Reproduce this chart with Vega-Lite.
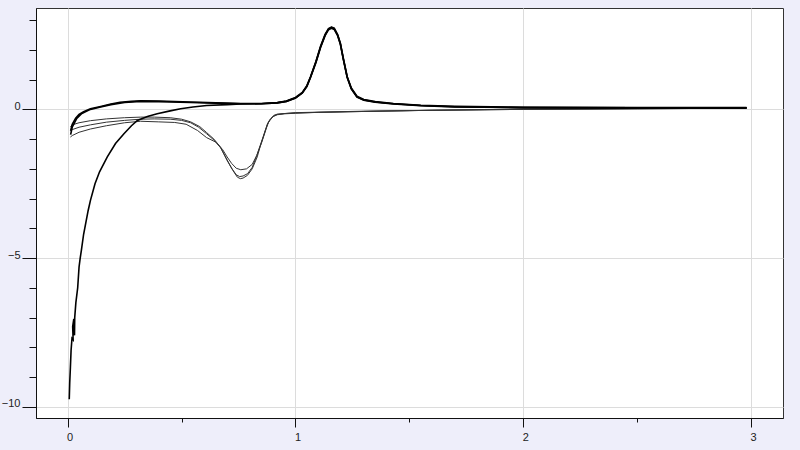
{
  "$schema": "https://vega.github.io/schema/vega-lite/v6.json",
  "width": 747,
  "height": 410,
  "autosize": {"type": "none"},
  "padding": {"left": 36, "top": 8, "right": 17, "bottom": 32},
  "background": "#eeeefa",
  "config": {
    "view": {"fill": "white", "stroke": "#333", "strokeWidth": 1},
    "axis": {
      "labelFont": "Liberation Sans",
      "labelFontSize": 11,
      "labelColor": "#222",
      "domainColor": "#111",
      "tickColor": "#111",
      "gridColor": "#dcdcdc",
      "title": null
    }
  },
  "data": {
    "values": [
      {"s":"a1","x":0.007,"y":-9.75},{"s":"a1","x":0.009,"y":-9.2},{"s":"a1","x":0.012,"y":-8.67},{"s":"a1","x":0.015,"y":-8.1},{"s":"a1","x":0.019,"y":-7.7},{"s":"a1","x":0.024,"y":-7.75},{"s":"a1","x":0.022,"y":-7.3},{"s":"a1","x":0.027,"y":-7.05},{"s":"a1","x":0.03,"y":-7.6},{"s":"a1","x":0.031,"y":-7.0},{"s":"a1","x":0.036,"y":-6.5},{"s":"a1","x":0.044,"y":-6.0},{"s":"a1","x":0.05,"y":-5.3},{"s":"a1","x":0.055,"y":-5.0},{"s":"a1","x":0.06,"y":-4.75},{"s":"a1","x":0.07,"y":-4.2},{"s":"a1","x":0.08,"y":-3.8},{"s":"a1","x":0.09,"y":-3.4},{"s":"a1","x":0.1,"y":-3.06},{"s":"a1","x":0.12,"y":-2.5},{"s":"a1","x":0.14,"y":-2.1},{"s":"a1","x":0.174,"y":-1.6},{"s":"a1","x":0.21,"y":-1.15},{"s":"a1","x":0.247,"y":-0.82},{"s":"a1","x":0.28,"y":-0.55},{"s":"a1","x":0.306,"y":-0.37},{"s":"a1","x":0.35,"y":-0.24},{"s":"a1","x":0.393,"y":-0.15},{"s":"a1","x":0.45,"y":-0.05},{"s":"a1","x":0.496,"y":0.02},{"s":"a1","x":0.55,"y":0.08},{"s":"a1","x":0.61,"y":0.13},{"s":"a1","x":0.7,"y":0.16},{"s":"a1","x":0.76,"y":0.18},{"s":"a1","x":0.85,"y":0.19},{"s":"a1","x":0.92,"y":0.22},{"s":"a1","x":0.96,"y":0.27},{"s":"a1","x":1.0,"y":0.38},{"s":"a1","x":1.03,"y":0.55},{"s":"a1","x":1.05,"y":0.78},{"s":"a1","x":1.066,"y":1.09},{"s":"a1","x":1.09,"y":1.6},{"s":"a1","x":1.11,"y":2.1},{"s":"a1","x":1.13,"y":2.5},{"s":"a1","x":1.145,"y":2.7},{"s":"a1","x":1.158,"y":2.76},{"s":"a1","x":1.17,"y":2.72},{"s":"a1","x":1.185,"y":2.5},{"s":"a1","x":1.197,"y":2.21},{"s":"a1","x":1.21,"y":1.7},{"s":"a1","x":1.227,"y":1.09},{"s":"a1","x":1.245,"y":0.7},{"s":"a1","x":1.27,"y":0.42},{"s":"a1","x":1.3,"y":0.32},{"s":"a1","x":1.35,"y":0.25},{"s":"a1","x":1.43,"y":0.19},{"s":"a1","x":1.55,"y":0.13},{"s":"a1","x":1.7,"y":0.09},{"s":"a1","x":2.0,"y":0.06},{"s":"a1","x":2.5,"y":0.05},{"s":"a1","x":2.98,"y":0.05},

      {"s":"a2","x":0.013,"y":-0.72},{"s":"a2","x":0.02,"y":-0.5},{"s":"a2","x":0.035,"y":-0.3},{"s":"a2","x":0.05,"y":-0.17},{"s":"a2","x":0.07,"y":-0.08},{"s":"a2","x":0.1,"y":0.02},{"s":"a2","x":0.145,"y":0.1},{"s":"a2","x":0.19,"y":0.18},{"s":"a2","x":0.23,"y":0.24},{"s":"a2","x":0.28,"y":0.27},{"s":"a2","x":0.32,"y":0.29},{"s":"a2","x":0.4,"y":0.28},{"s":"a2","x":0.54,"y":0.25},{"s":"a2","x":0.65,"y":0.22},{"s":"a2","x":0.76,"y":0.2},{"s":"a2","x":0.85,"y":0.2},{"s":"a2","x":0.92,"y":0.23},{"s":"a2","x":0.96,"y":0.28},{"s":"a2","x":1.0,"y":0.4},{"s":"a2","x":1.03,"y":0.57},{"s":"a2","x":1.05,"y":0.8},{"s":"a2","x":1.066,"y":1.1},{"s":"a2","x":1.09,"y":1.62},{"s":"a2","x":1.11,"y":2.12},{"s":"a2","x":1.13,"y":2.52},{"s":"a2","x":1.145,"y":2.72},{"s":"a2","x":1.158,"y":2.77},{"s":"a2","x":1.17,"y":2.73},{"s":"a2","x":1.185,"y":2.52},{"s":"a2","x":1.197,"y":2.23},{"s":"a2","x":1.21,"y":1.72},{"s":"a2","x":1.227,"y":1.1},{"s":"a2","x":1.245,"y":0.72},{"s":"a2","x":1.27,"y":0.44},{"s":"a2","x":1.3,"y":0.33},{"s":"a2","x":1.35,"y":0.26},{"s":"a2","x":1.43,"y":0.2},{"s":"a2","x":1.55,"y":0.14},{"s":"a2","x":1.7,"y":0.1},{"s":"a2","x":2.0,"y":0.07},{"s":"a2","x":2.5,"y":0.06},{"s":"a2","x":2.98,"y":0.06},

      {"s":"a3","x":0.013,"y":-0.85},{"s":"a3","x":0.02,"y":-0.6},{"s":"a3","x":0.04,"y":-0.3},{"s":"a3","x":0.06,"y":-0.15},{"s":"a3","x":0.1,"y":0.0},{"s":"a3","x":0.145,"y":0.08},{"s":"a3","x":0.19,"y":0.16},{"s":"a3","x":0.25,"y":0.23},{"s":"a3","x":0.32,"y":0.27},{"s":"a3","x":0.4,"y":0.26},{"s":"a3","x":0.54,"y":0.23},{"s":"a3","x":0.65,"y":0.21},{"s":"a3","x":0.76,"y":0.19},{"s":"a3","x":0.85,"y":0.19},{"s":"a3","x":0.92,"y":0.22},{"s":"a3","x":0.96,"y":0.27},{"s":"a3","x":1.0,"y":0.38},{"s":"a3","x":1.03,"y":0.55},{"s":"a3","x":1.05,"y":0.77},{"s":"a3","x":1.066,"y":1.07},{"s":"a3","x":1.09,"y":1.58},{"s":"a3","x":1.11,"y":2.08},{"s":"a3","x":1.13,"y":2.48},{"s":"a3","x":1.145,"y":2.68},{"s":"a3","x":1.158,"y":2.73},{"s":"a3","x":1.17,"y":2.69},{"s":"a3","x":1.185,"y":2.48},{"s":"a3","x":1.197,"y":2.19},{"s":"a3","x":1.21,"y":1.68},{"s":"a3","x":1.227,"y":1.07},{"s":"a3","x":1.245,"y":0.69},{"s":"a3","x":1.27,"y":0.41},{"s":"a3","x":1.3,"y":0.31},{"s":"a3","x":1.35,"y":0.24},{"s":"a3","x":1.43,"y":0.18},{"s":"a3","x":1.55,"y":0.12},{"s":"a3","x":1.7,"y":0.08},{"s":"a3","x":2.0,"y":0.06},{"s":"a3","x":2.5,"y":0.05},{"s":"a3","x":2.98,"y":0.05},

      {"s":"k1","x":2.98,"y":0.04},{"s":"k1","x":2.5,"y":0.02},{"s":"k1","x":2.0,"y":0.0},{"s":"k1","x":1.6,"y":-0.03},{"s":"k1","x":1.3,"y":-0.07},{"s":"k1","x":1.1,"y":-0.1},{"s":"k1","x":1.0,"y":-0.12},{"s":"k1","x":0.95,"y":-0.14},{"s":"k1","x":0.92,"y":-0.17},{"s":"k1","x":0.905,"y":-0.22},{"s":"k1","x":0.89,"y":-0.32},{"s":"k1","x":0.876,"y":-0.5},{"s":"k1","x":0.86,"y":-0.9},{"s":"k1","x":0.845,"y":-1.25},{"s":"k1","x":0.832,"y":-1.6},{"s":"k1","x":0.81,"y":-2.0},{"s":"k1","x":0.789,"y":-2.22},{"s":"k1","x":0.77,"y":-2.31},{"s":"k1","x":0.758,"y":-2.33},{"s":"k1","x":0.745,"y":-2.28},{"s":"k1","x":0.725,"y":-2.05},{"s":"k1","x":0.7,"y":-1.72},{"s":"k1","x":0.671,"y":-1.27},{"s":"k1","x":0.642,"y":-1.0},{"s":"k1","x":0.61,"y":-0.78},{"s":"k1","x":0.58,"y":-0.58},{"s":"k1","x":0.54,"y":-0.42},{"s":"k1","x":0.5,"y":-0.33},{"s":"k1","x":0.45,"y":-0.28},{"s":"k1","x":0.38,"y":-0.26},{"s":"k1","x":0.32,"y":-0.26},{"s":"k1","x":0.25,"y":-0.28},{"s":"k1","x":0.17,"y":-0.32},{"s":"k1","x":0.1,"y":-0.38},{"s":"k1","x":0.05,"y":-0.45},{"s":"k1","x":0.02,"y":-0.52},{"s":"k1","x":0.012,"y":-0.58},

      {"s":"k2","x":2.98,"y":0.04},{"s":"k2","x":2.5,"y":0.02},{"s":"k2","x":2.0,"y":0.0},{"s":"k2","x":1.6,"y":-0.03},{"s":"k2","x":1.3,"y":-0.07},{"s":"k2","x":1.1,"y":-0.1},{"s":"k2","x":1.0,"y":-0.13},{"s":"k2","x":0.95,"y":-0.15},{"s":"k2","x":0.92,"y":-0.18},{"s":"k2","x":0.9,"y":-0.25},{"s":"k2","x":0.88,"y":-0.45},{"s":"k2","x":0.865,"y":-0.8},{"s":"k2","x":0.85,"y":-1.15},{"s":"k2","x":0.83,"y":-1.55},{"s":"k2","x":0.81,"y":-1.85},{"s":"k2","x":0.785,"y":-2.0},{"s":"k2","x":0.76,"y":-2.03},{"s":"k2","x":0.74,"y":-1.98},{"s":"k2","x":0.72,"y":-1.82},{"s":"k2","x":0.7,"y":-1.6},{"s":"k2","x":0.68,"y":-1.35},{"s":"k2","x":0.65,"y":-1.1},{"s":"k2","x":0.61,"y":-0.95},{"s":"k2","x":0.57,"y":-0.71},{"s":"k2","x":0.52,"y":-0.5},{"s":"k2","x":0.47,"y":-0.44},{"s":"k2","x":0.4,"y":-0.42},{"s":"k2","x":0.32,"y":-0.4},{"s":"k2","x":0.25,"y":-0.45},{"s":"k2","x":0.17,"y":-0.55},{"s":"k2","x":0.1,"y":-0.66},{"s":"k2","x":0.05,"y":-0.77},{"s":"k2","x":0.02,"y":-0.88},{"s":"k2","x":0.012,"y":-0.93},

      {"s":"k3","x":2.98,"y":0.05},{"s":"k3","x":2.0,"y":0.01},{"s":"k3","x":1.3,"y":-0.06},{"s":"k3","x":1.0,"y":-0.11},{"s":"k3","x":0.92,"y":-0.16},{"s":"k3","x":0.905,"y":-0.2},{"s":"k3","x":0.885,"y":-0.38},{"s":"k3","x":0.87,"y":-0.65},{"s":"k3","x":0.85,"y":-1.1},{"s":"k3","x":0.83,"y":-1.55},{"s":"k3","x":0.81,"y":-1.95},{"s":"k3","x":0.79,"y":-2.16},{"s":"k3","x":0.77,"y":-2.24},{"s":"k3","x":0.755,"y":-2.26},{"s":"k3","x":0.74,"y":-2.2},{"s":"k3","x":0.72,"y":-1.98},{"s":"k3","x":0.7,"y":-1.7},{"s":"k3","x":0.672,"y":-1.3},{"s":"k3","x":0.645,"y":-1.05},{"s":"k3","x":0.61,"y":-0.82},{"s":"k3","x":0.575,"y":-0.6},{"s":"k3","x":0.54,"y":-0.45},{"s":"k3","x":0.5,"y":-0.37},{"s":"k3","x":0.45,"y":-0.33},{"s":"k3","x":0.38,"y":-0.32},{"s":"k3","x":0.32,"y":-0.33},{"s":"k3","x":0.25,"y":-0.37},{"s":"k3","x":0.17,"y":-0.43},{"s":"k3","x":0.1,"y":-0.52},{"s":"k3","x":0.05,"y":-0.6},{"s":"k3","x":0.02,"y":-0.68},{"s":"k3","x":0.012,"y":-0.72}
    ]
  },
  "encoding": {
    "x": {
      "field": "x", "type": "quantitative",
      "scale": {"domain": [-0.139, 3.14], "nice": false, "zero": false},
      "axis": {
        "values": [0, 0.5, 1, 1.5, 2, 2.5, 3],
        "labelExpr": "datum.value % 1 === 0 ? format(datum.value, 'd') : ''",
        "grid": true,
        "gridOpacity": {"condition": {"test": "datum.value % 1 === 0", "value": 1}, "value": 0},
        "tickSize": {"condition": {"test": "datum.value % 1 === 0", "value": 9}, "value": 4},
        "labelPadding": 4,
        "labelOffset": 2
      }
    },
    "y": {
      "field": "y", "type": "quantitative",
      "scale": {"domain": [-10.38, 3.41], "nice": false, "zero": false},
      "axis": {
        "values": [-10, -9, -8, -7, -6, -5, -4, -3, -2, -1, 0, 1, 2, 3],
        "labelExpr": "datum.value % 5 === 0 ? format(datum.value, 'd') : ''",
        "grid": true,
        "gridOpacity": {"condition": {"test": "datum.value % 5 === 0", "value": 1}, "value": 0},
        "tickSize": {"condition": {"test": "datum.value % 5 === 0", "value": 14}, "value": 7},
        "labelPadding": 2,
        "labelBaseline": "alphabetic"
      }
    },
    "detail": {"field": "s"},
    "order": {"value": null}
  },
  "layer": [
    {
      "transform": [{"filter": "indexof(datum.s, 'k') === 0"}],
      "mark": {"type": "line", "color": "#333", "strokeWidth": 1}
    },
    {
      "transform": [{"filter": "indexof(datum.s, 'a') === 0"}],
      "mark": {"type": "line", "color": "#000", "strokeWidth": 1.6}
    }
  ]
}
